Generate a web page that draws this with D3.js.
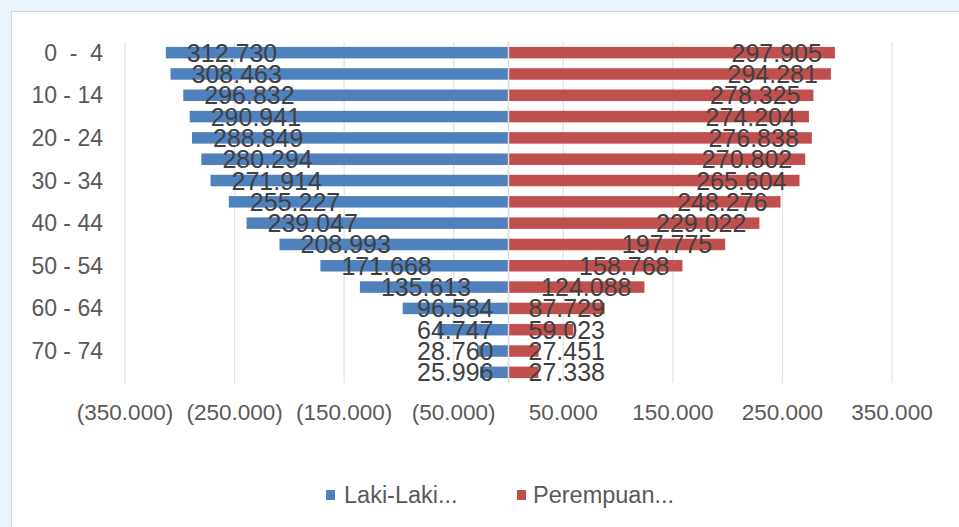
<!DOCTYPE html>
<html><head><meta charset="utf-8">
<script src="https://cdn.jsdelivr.net/npm/d3@7"></script>
<style>
html,body{margin:0;padding:0;background:#eaf4fd;}
svg{display:block;font-family:"Liberation Sans",Arial,sans-serif;}
</style></head>
<body><svg id="chart" width="959" height="527"></svg>
<script>
const categories = ["0  -  4","5 - 9","10 - 14","15 - 19","20 - 24","25 - 29","30 - 34","35 - 39","40 - 44","45 - 49","50 - 54","55 - 59","60 - 64","65 - 69","70 - 74","75+"];
const male = [312730,308463,296832,290941,288849,280294,271914,255227,239047,208993,171668,135613,96584,64747,28760,25996];
const female = [297905,294281,278325,274204,276838,270802,265604,248276,229022,197775,158768,124088,87729,59023,27451,27338];
const tickValues = [-350000,-250000,-150000,-50000,50000,150000,250000,350000];
const seriesNames = ["Laki-Laki...","Perempuan..."];
const colors = ["#4f81bd","#c0504d"];

const svg = d3.select("#chart");
// card
svg.append("rect").attr("x",11.5).attr("y",11.5).attr("width",960).attr("height",530)
  .attr("fill","#fff").attr("stroke","#d6d6d6");

const x = d3.scaleLinear().domain([-350000,350000]).range([125,892]);
const y = d3.scaleBand().domain(categories).range([42,383]).paddingInner(0.46).paddingOuter(0.23);

const fmtNum = d3.formatLocale({decimal:",",thousands:".",grouping:[3],currency:["",""]}).format(",d");
const fmtTick = v => v<0 ? "("+fmtNum(-v)+")" : fmtNum(v);

// gridlines
svg.append("g").selectAll("line").data(tickValues).join("line")
  .attr("x1",d=>x(d)).attr("x2",d=>x(d)).attr("y1",42).attr("y2",383)
  .attr("stroke","#e3e3e3").attr("stroke-width",1.2);

// bars
svg.append("g").selectAll("rect").data(male).join("rect")
  .attr("x",d=>x(-d)).attr("width",d=>x(0)-x(-d))
  .attr("y",(d,i)=>y(categories[i])).attr("height",y.bandwidth()).attr("fill",colors[0]);
svg.append("g").selectAll("rect").data(female).join("rect")
  .attr("x",x(0)).attr("width",d=>x(d)-x(0))
  .attr("y",(d,i)=>y(categories[i])).attr("height",y.bandwidth()).attr("fill",colors[1]);

// zero axis line
svg.append("line").attr("x1",x(0)).attr("x2",x(0)).attr("y1",42).attr("y2",383)
  .attr("stroke","#dcdcdc").attr("stroke-width",1.5);

// data labels
const lblM = svg.append("g").selectAll("text").data(male).join("text")
  .attr("font-size",25).attr("fill","#404040").attr("dominant-baseline","central")
  .attr("y",(d,i)=>y(categories[i])+y.bandwidth()/2).text(d=>fmtNum(d));
lblM.each(function(d){
  const w=this.getComputedTextLength();
  const sx=Math.min(x(-d)+21, x(0)-15-w);
  d3.select(this).attr("x",sx);
});
const lblF = svg.append("g").selectAll("text").data(female).join("text")
  .attr("font-size",25).attr("fill","#404040").attr("dominant-baseline","central")
  .attr("text-anchor","end")
  .attr("y",(d,i)=>y(categories[i])+y.bandwidth()/2).text(d=>fmtNum(d));
lblF.each(function(d){
  const w=this.getComputedTextLength();
  const ex=Math.max(x(d)-13, x(0)+20+w);
  d3.select(this).attr("x",ex);
});

// y axis labels (every other)
svg.append("g").selectAll("text").data(categories.filter((c,i)=>i%2===0)).join("text")
  .attr("x",103).attr("y",d=>y(d)+y.bandwidth()/2).attr("text-anchor","end")
  .attr("dominant-baseline","central").attr("font-size",23).attr("fill","#595959")
  .style("white-space","pre").text(d=>d);

// x axis tick labels
svg.append("g").selectAll("text").data(tickValues).join("text")
  .attr("x",d=>x(d)).attr("y",412).attr("text-anchor","middle")
  .attr("dominant-baseline","central").attr("font-size",22.5).attr("fill","#595959")
  .text(d=>fmtTick(d));

// legend
const leg = [{x:326,tx:344},{x:517,tx:533}];
seriesNames.forEach((n,i)=>{
  svg.append("rect").attr("x",leg[i].x).attr("y",490).attr("width",9).attr("height",10).attr("fill",colors[i]);
  svg.append("text").attr("x",leg[i].tx).attr("y",495).attr("dominant-baseline","central")
    .attr("font-size",23.5).attr("fill","#595959").text(n);
});
</script></body></html>
